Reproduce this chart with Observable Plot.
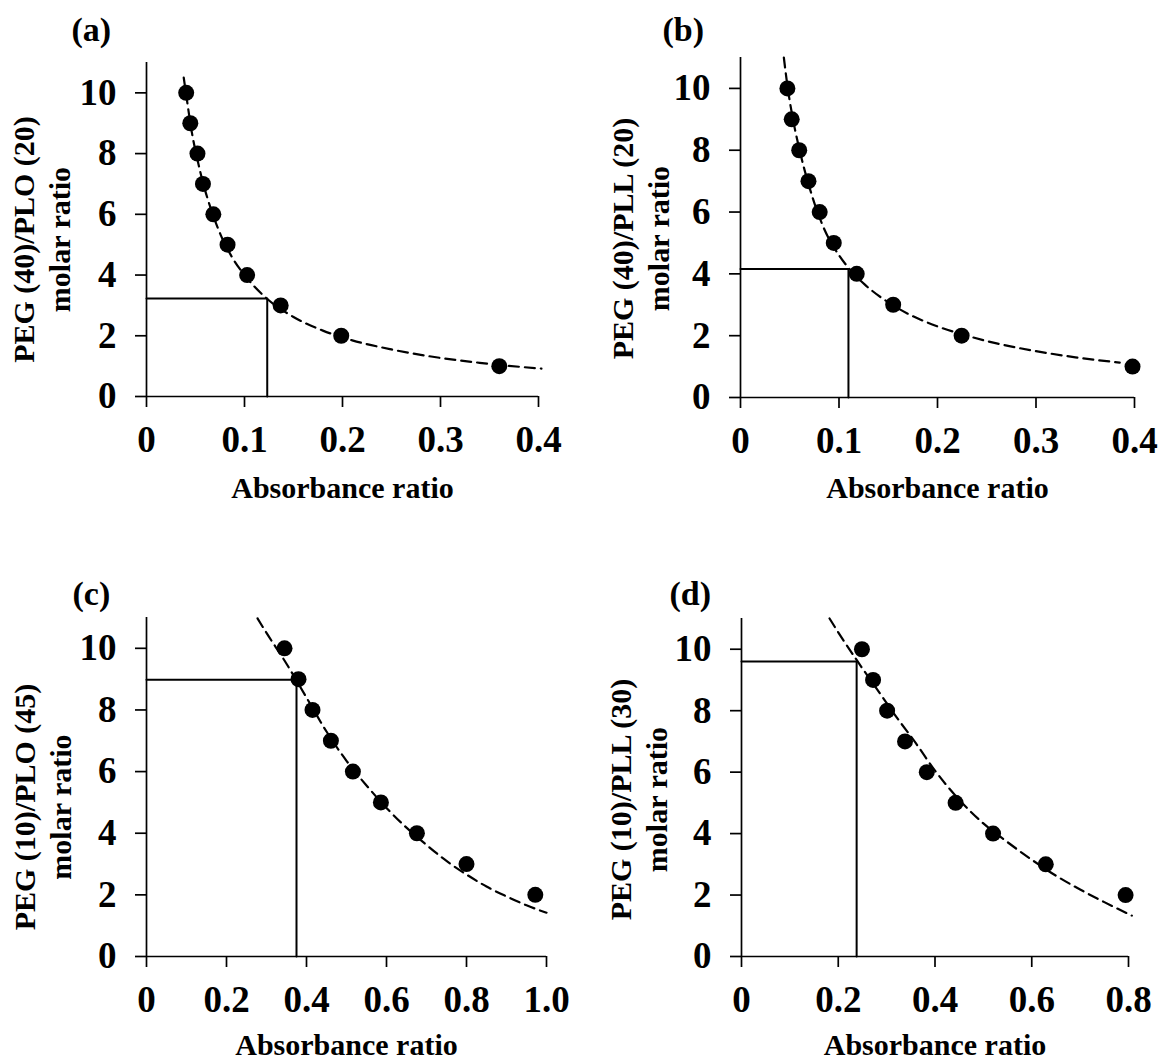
<!DOCTYPE html>
<html>
<head>
<meta charset="utf-8">
<script src="https://cdn.jsdelivr.net/npm/d3@7"></script>
<script src="https://cdn.jsdelivr.net/npm/@observablehq/plot@0.6"></script>
<style>
  html, body { margin: 0; padding: 0; background: #fff; }
  #chart { position: relative; width: 1160px; height: 1059px; background: #fff; }
  .panel { position: absolute; }
</style>
</head>
<body>
<div id="chart"></div>
<script>
// ---- data ----
const molarRatioAB = [10, 9, 8, 7, 6, 5, 4, 3, 2, 1];
const absorbanceA = [0.0405, 0.0447, 0.052, 0.0576, 0.0682, 0.0827, 0.1027, 0.1369, 0.1987, 0.3600];
const absorbanceB = [0.0476, 0.0520, 0.0596, 0.0690, 0.0804, 0.0947, 0.1180, 0.1550, 0.2245, 0.3980];

const molarRatioCD = [10, 9, 8, 7, 6, 5, 4, 3, 2];
const absorbanceC = [0.345, 0.380, 0.415, 0.461, 0.516, 0.586, 0.676, 0.800, 0.972];
const absorbanceD = [0.249, 0.272, 0.301, 0.338, 0.383, 0.4426, 0.520, 0.629, 0.794];

// dashed trend lines
const trendAx = [0.038, 0.042, 0.046, 0.052, 0.058, 0.066, 0.076, 0.088, 0.100, 0.123, 0.150, 0.180, 0.210, 0.250, 0.300, 0.340, 0.360, 0.403];
const trendAy = [10.5, 9.6, 8.75, 7.8, 7.0, 6.15, 5.3, 4.55, 4.0, 3.22, 2.62, 2.17, 1.85, 1.55, 1.27, 1.11, 1.04, 0.92];
const trendBx = [0.044, 0.048, 0.053, 0.060, 0.070, 0.083, 0.100, 0.110, 0.126, 0.155, 0.200, 0.2245, 0.260, 0.300, 0.340, 0.385];
const trendBy = [11.0, 10.0, 9.05, 8.0, 6.8, 5.6, 4.6, 4.18, 3.66, 2.98, 2.3, 2.05, 1.75, 1.5, 1.3, 1.13];
const trendCx = [0.2775, 0.30, 0.35, 0.40, 0.45, 0.50, 0.55, 0.60, 0.65, 0.70, 0.75, 0.80, 0.85, 0.90, 0.95, 1.0];
const trendCy = [10.97, 10.5, 9.5, 8.4, 7.3, 6.35, 5.55, 4.82, 4.18, 3.62, 3.1, 2.66, 2.27, 1.95, 1.66, 1.42];
const trendDx = [0.182, 0.200, 0.238, 0.280, 0.320, 0.360, 0.400, 0.450, 0.500, 0.550, 0.600, 0.650, 0.700, 0.750, 0.807];
const trendDy = [11.0, 10.55, 9.65, 8.7, 7.8, 6.95, 6.05, 5.1, 4.33, 3.72, 3.15, 2.63, 2.18, 1.77, 1.33];

// read-off reference lines [absorbance ratio, molar ratio]
const refA = [0.1232, 3.23];
const refB = [0.1096, 4.16];
const refC = [0.375, 8.98];
const refD = [0.238, 9.6];

// ticks and labels
const yTicks = [0, 2, 4, 6, 8, 10];
const xTicksAB = [0, 0.1, 0.2, 0.3, 0.4];
const xTicksC = [0, 0.2, 0.4, 0.6, 0.8, 1.0];
const xTicksD = [0, 0.2, 0.4, 0.6, 0.8];
const panelLetters = ["(a)", "(b)", "(c)", "(d)"];
const yTitles = ["PEG (40)/PLO (20)\nmolar ratio", "PEG (40)/PLL (20)\nmolar ratio",
                 "PEG (10)/PLO (45)\nmolar ratio", "PEG (10)/PLL (30)\nmolar ratio"];
const xTitle = "Absorbance ratio";

// ---- drawing ----
const FONT = "'Liberation Serif', 'Times New Roman', Times, serif";
const fmt = d => d === 0 ? "0" : d.toFixed(1);

function zip(xs, ys) { return xs.map((x, i) => ({x, y: ys[i]})); }

function panel(cfg) {
  const pts = zip(cfg.abs, cfg.ratio);
  const trend = zip(cfg.tx, cfg.ty);
  const ref = [{x: 0, y: cfg.ref[1]}, {x: cfg.ref[0], y: cfg.ref[1]}, {x: cfg.ref[0], y: 0}];
  const txt = {fontFamily: FONT, fontWeight: "bold", fill: "#000"};
  return Plot.plot({
    width: 580,
    height: cfg.h,
    marginLeft: cfg.ml, marginRight: cfg.mr, marginTop: cfg.mt, marginBottom: cfg.mb,
    style: {fontFamily: FONT, fontWeight: "bold", color: "#000", background: "transparent", overflow: "visible"},
    x: {domain: [0, cfg.xmax]},
    y: {domain: [0, 11]},
    marks: [
      Plot.axisX(cfg.xticks, {tickSize: 11, tickPadding: 18, fontSize: 37, fontFamily: FONT, fontWeight: "bold", strokeWidth: 1.7, tickFormat: fmt, label: null}),
      Plot.axisY(yTicks, {tickSize: 11, tickPadding: 19, fontSize: 37, fontFamily: FONT, fontWeight: "bold", strokeWidth: 1.7, label: null}),
      Plot.ruleX([0], {stroke: "#000", strokeWidth: 1.7}),
      Plot.ruleY([0], {stroke: "#000", strokeWidth: 1.7}),
      Plot.line(ref, {x: "x", y: "y", stroke: "#000", strokeWidth: 2}),
      Plot.line(trend, {x: "x", y: "y", curve: "monotone-x", stroke: "#000", strokeWidth: 2.2, strokeDasharray: "10,6"}),
      Plot.dot(pts, {x: "x", y: "y", r: 8, fill: "#000", stroke: "none"}),
      Plot.text([cfg.letter], {...txt, frameAnchor: "top-left", textAnchor: "start", lineAnchor: "bottom",
        dx: cfg.ldx, dy: cfg.ldy, fontSize: 34}),
      Plot.text([cfg.ytitle], {...txt, frameAnchor: "left", rotate: -90, textAnchor: "middle", lineAnchor: "middle",
        lineHeight: 1.2, dx: cfg.ydx, dy: cfg.ydy, fontSize: 30}),
      Plot.text([xTitle], {...txt, frameAnchor: "bottom", textAnchor: "middle", lineAnchor: "top",
        dy: cfg.xdy, fontSize: 30})
    ]
  });
}

const panels = [
  {left: 0, top: 0, h: 520, ml: 146, mr: 42, mt: 62, mb: 124, xmax: 0.4, xticks: xTicksAB,
   abs: absorbanceA, ratio: molarRatioAB, tx: trendAx, ty: trendAy, ref: refA,
   letter: panelLetters[0], ytitle: yTitles[0], ldx: -75, ldy: -22, ydx: -106, ydy: 10, xdy: 80},
  {left: 580, top: 0, h: 520, ml: 160, mr: 26, mt: 57, mb: 123, xmax: 0.4, xticks: xTicksAB,
   abs: absorbanceB, ratio: molarRatioAB, tx: trendBx, ty: trendBy, ref: refB,
   letter: panelLetters[1], ytitle: yTitles[1], ldx: -78, ldy: -17, ydx: -101, ydy: 11, xdy: 79},
  {left: 0, top: 540, h: 519, ml: 146, mr: 34, mt: 77, mb: 103, xmax: 1.0, xticks: xTicksC,
   abs: absorbanceC, ratio: molarRatioCD, tx: trendCx, ty: trendCy, ref: refC,
   letter: panelLetters[2], ytitle: yTitles[2], ldx: -74, ldy: -13, ydx: -105, ydy: 20, xdy: 77},
  {left: 580, top: 540, h: 519, ml: 161, mr: 32, mt: 78, mb: 103, xmax: 0.8, xticks: xTicksD,
   abs: absorbanceD, ratio: molarRatioCD, tx: trendDx, ty: trendDy, ref: refD,
   letter: panelLetters[3], ytitle: yTitles[3], ldx: -72, ldy: -14, ydx: -104, ydy: 12, xdy: 77}
];

const root = document.getElementById("chart");
for (const cfg of panels) {
  const wrap = document.createElement("div");
  wrap.className = "panel";
  wrap.style.left = cfg.left + "px";
  wrap.style.top = cfg.top + "px";
  wrap.appendChild(panel(cfg));
  root.appendChild(wrap);
}
</script>
</body>
</html>
